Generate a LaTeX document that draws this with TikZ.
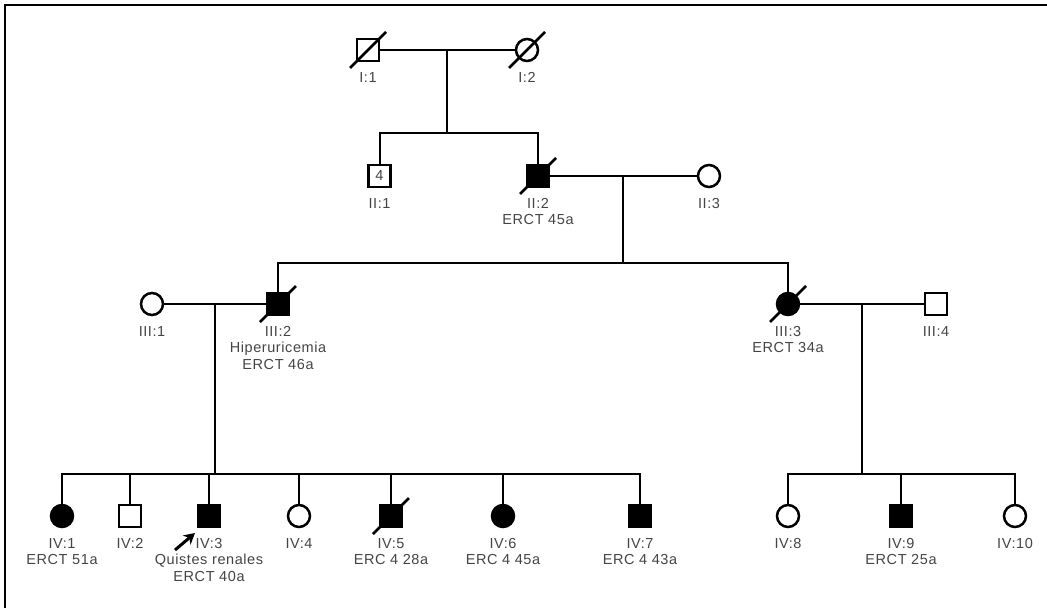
\documentclass[tikz,border=0pt]{standalone}
\usepackage{fontspec}
\setmainfont{Liberation Sans}[LetterSpace=4]
\usetikzlibrary{arrows.meta}
\definecolor{txtgray}{HTML}{444444}
\begin{document}
\begin{tikzpicture}[x=1pt,y=-1pt,
  male/.style={draw, line width=2.5pt, rectangle, minimum size=22pt, inner sep=0pt, fill=white},
  female/.style={draw, line width=2.5pt, circle, minimum size=22pt, inner sep=0pt, fill=white},
  aff/.style={fill=black},
  lbl/.style={text=txtgray, font=\fontsize{14.5}{16.5}\selectfont, align=center, inner sep=0pt, anchor=north},
  rel/.style={line width=2pt},
  dead/.style={line width=2.5pt},
  proband/.style={line width=3pt, -{Stealth[length=11pt,width=12pt]}}]
\useasboundingbox (0,0) rectangle (1047,608);
\draw[line width=2pt] (5,608) -- (5,5) -- (1047,5);

% Generation I
\node[male] (I1) at (368,50) {};
\node[female] (I2) at (527,50) {};
% Generation II
\node[male, text=txtgray, font=\fontsize{14.5}{16}\selectfont] (II1) at (379.5,176) {4};
\node[male, aff] (II2) at (538,176) {};
\node[female] (II3) at (709,176) {};
% Generation III
\node[female] (III1) at (152,304) {};
\node[male, aff] (III2) at (278,304) {};
\node[female, aff] (III3) at (788,304) {};
\node[male] (III4) at (936,304) {};
% Generation IV
\node[female, aff] (IV1) at (62,516) {};
\node[male] (IV2) at (130,516) {};
\node[male, aff] (IV3) at (209,516) {};
\node[female] (IV4) at (299,516) {};
\node[male, aff] (IV5) at (391,516) {};
\node[female, aff] (IV6) at (503,516) {};
\node[male, aff] (IV7) at (640,516) {};
\node[female] (IV8) at (788,516) {};
\node[male, aff] (IV9) at (901,516) {};
\node[female] (IV10) at (1015,516) {};

% coordinates for mating / sibship lines
\coordinate (m1) at (447,50);  \coordinate (s1) at (447,133);
\coordinate (m2) at (623,176); \coordinate (s2) at (623,263);
\coordinate (m3) at (215,304); \coordinate (s3) at (215,474);
\coordinate (m4) at (862,304); \coordinate (s4) at (862,474);

\draw[rel] (I1) -- (I2);
\draw[rel] (m1) -- (s1);
\draw[rel] (II1.north) |- (s1) -| (II2.north);
\draw[rel] (II2) -- (II3);
\draw[rel] (m2) -- (s2);
\draw[rel] (III2.north) |- (s2) -| (III3.north);
\draw[rel] (III1) -- (III2);
\draw[rel] (III3) -- (III4);
\draw[rel] (m3) -- (s3);
\draw[rel] (m4) -- (s4);
\draw[rel] (IV1.north) |- (s3) -| (IV7.north);
\foreach \n in {IV2,IV3,IV4,IV5,IV6} \draw[rel] (\n.north) -- (\n.north |- s3);
\draw[rel] (IV8.north) |- (s4) -| (IV10.north);
\draw[rel] (IV9.north) -- (IV9.north |- s4);

% deceased
\foreach \n in {I1,I2,II2,III2,III3,IV5}
  \draw[dead] ([shift={(-18,18)}]\n.center) -- ([shift={(18,-18)}]\n.center);

% proband arrow
\coordinate (pa) at (175,550);
\coordinate (pb) at (195,533);
\draw[proband] (pa) -- (pb);

% labels
\node[lbl] (I1l) at ([shift={(0,22)}]I1.center) {I:1};
\node[lbl] (I2l) at ([shift={(0,22)}]I2.center) {I:2};
\node[lbl] (II1l) at ([shift={(0,22)}]II1.center) {II:1};
\node[lbl] (II2l) at ([shift={(0,22)}]II2.center) {II:2\\ERCT 45a};
\node[lbl] (II3l) at ([shift={(0,22)}]II3.center) {II:3};
\node[lbl] (III1l) at ([shift={(0,22)}]III1.center) {III:1};
\node[lbl] (III2l) at ([shift={(0,22)}]III2.center) {III:2\\Hiperuricemia\\ERCT 46a};
\node[lbl] (III3l) at ([shift={(0,22)}]III3.center) {III:3\\ERCT 34a};
\node[lbl] (III4l) at ([shift={(0,22)}]III4.center) {III:4};
\node[lbl] (IV1l) at ([shift={(0,22)}]IV1.center) {IV:1\\ERCT 51a};
\node[lbl] (IV2l) at ([shift={(0,22)}]IV2.center) {IV:2};
\node[lbl] (IV3l) at ([shift={(0,22)}]IV3.center) {IV:3\\Quistes renales\\ERCT 40a};
\node[lbl] (IV4l) at ([shift={(0,22)}]IV4.center) {IV:4};
\node[lbl] (IV5l) at ([shift={(0,22)}]IV5.center) {IV:5\\ERC 4 28a};
\node[lbl] (IV6l) at ([shift={(0,22)}]IV6.center) {IV:6\\ERC 4 45a};
\node[lbl] (IV7l) at ([shift={(0,22)}]IV7.center) {IV:7\\ERC 4 43a};
\node[lbl] (IV8l) at ([shift={(0,22)}]IV8.center) {IV:8};
\node[lbl] (IV9l) at ([shift={(0,22)}]IV9.center) {IV:9\\ERCT 25a};
\node[lbl] (IV10l) at ([shift={(0,22)}]IV10.center) {IV:10};
\end{tikzpicture}
\end{document}
